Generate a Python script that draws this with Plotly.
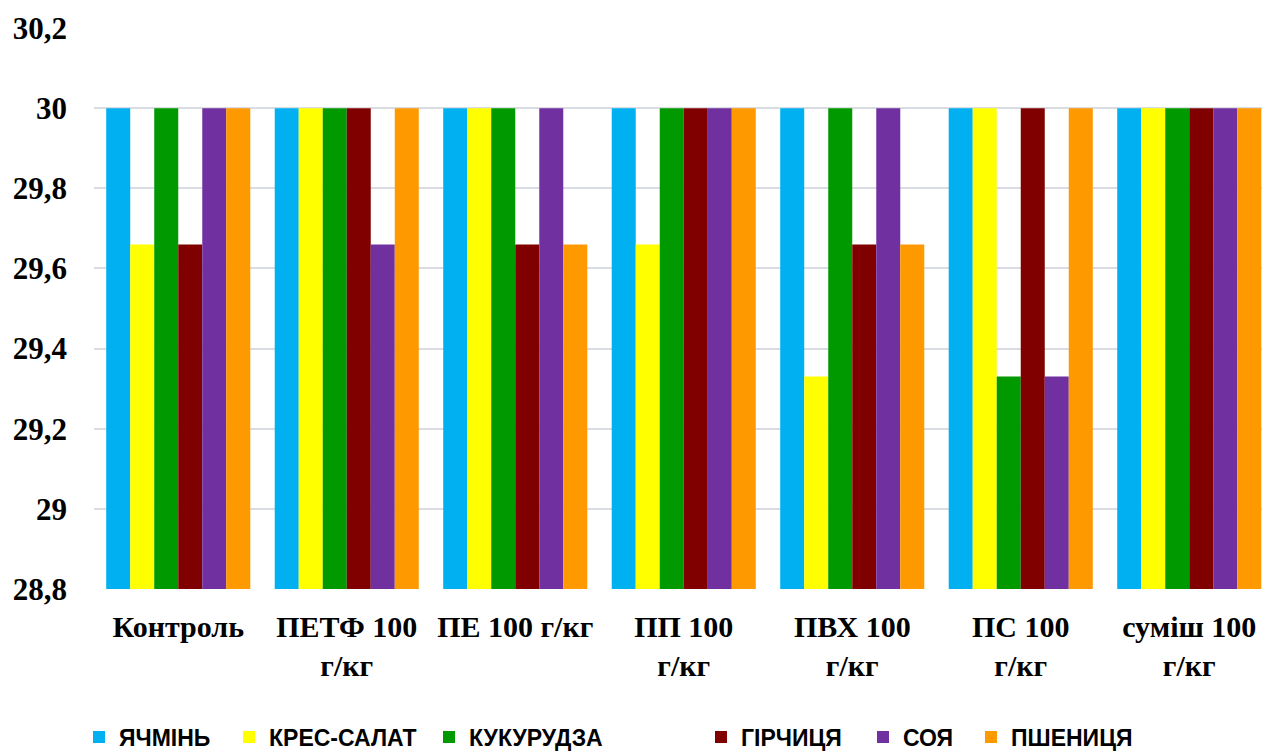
import plotly.graph_objects as go

categories = ["Контроль", "ПЕТФ 100<br>г/кг", "ПЕ 100 г/кг", "ПП 100<br>г/кг",
              "ПВХ 100<br>г/кг", "ПС 100<br>г/кг", "суміш 100<br>г/кг"]

barley = [30, 30, 30, 30, 30, 30, 30]
cress = [29.66, 30, 30, 29.66, 29.33, 30, 30]
corn = [30, 30, 30, 30, 30, 29.33, 30]
mustard = [29.66, 30, 29.66, 30, 29.66, 30, 30]
soy = [30, 29.66, 30, 30, 30, 29.33, 30]
wheat = [30, 30, 29.66, 30, 29.66, 30, 30]

series_names = ["ЯЧМІНЬ", "КРЕС-САЛАТ", "КУКУРУДЗА", "ГІРЧИЦЯ", "СОЯ", "ПШЕНИЦЯ"]
series_values = [barley, cress, corn, mustard, soy, wheat]
series_colors = ["#00B0F0", "#FFFF00", "#009900", "#800000", "#7030A0", "#FF9900"]

y_ticks = [28.8, 29.0, 29.2, 29.4, 29.6, 29.8, 30.0, 30.2]
y_tick_text = ["28,8", "29", "29,2", "29,4", "29,6", "29,8", "30", "30,2"]

# layout constants (pixels)
W, H = 1262, 753
ML, MR, MT, MB = 94, 0, 28, 164
plot_w = W - ML - MR
plot_h = H - MT - MB
legend_marker_px = [93, 243, 443, 715, 877, 985]
legend_center_y = 737

fig = go.Figure()
legend_keys = ["legend"] + [f"legend{i}" for i in range(2, len(series_names) + 1)]
for name, vals, color, lk in zip(series_names, series_values, series_colors, legend_keys):
    fig.add_trace(go.Bar(
        x=categories, y=vals, name=name,
        marker=dict(color=color, line=dict(width=0)),
        legend=lk,
    ))

legend_font = dict(family="Liberation Sans Narrow, Liberation Sans, Arial", size=23,
                   color="black", weight="bold")
legends = {}
for lk, px in zip(legend_keys, legend_marker_px):
    legends[lk] = dict(
        orientation="h",
        x=(px - 14 - ML) / plot_w, xanchor="left",
        y=(MT + plot_h - legend_center_y) / plot_h, yanchor="middle",
        font=legend_font, itemwidth=30, bgcolor="rgba(0,0,0,0)",
    )

fig.update_layout(
    width=W, height=H,
    margin=dict(l=ML, r=MR, t=MT, b=MB, autoexpand=False),
    paper_bgcolor="white", plot_bgcolor="white",
    barmode="group", bargap=0.145, bargroupgap=0,
    showlegend=True,
    xaxis=dict(
        range=[-0.5, -0.5 + plot_w / 168.5],
        showgrid=False, showline=False, ticks="", automargin=False,
        tickfont=dict(family="Liberation Serif, Times New Roman", size=30,
                      color="black", weight="bold"),
        ticklabelstandoff=17,
    ),
    yaxis=dict(
        range=[28.8, 30.2], tickvals=y_ticks, ticktext=y_tick_text,
        showgrid=True, gridcolor="#D9DDE3", gridwidth=2,
        zeroline=False, showline=False, ticks="", automargin=False,
        tickfont=dict(family="Liberation Serif, Times New Roman", size=31,
                      color="black", weight="bold"),
        ticklabelstandoff=26,
    ),
    font=dict(family="Liberation Serif", color="black"),
    **legends,
)

fig.write_html("out.html")
